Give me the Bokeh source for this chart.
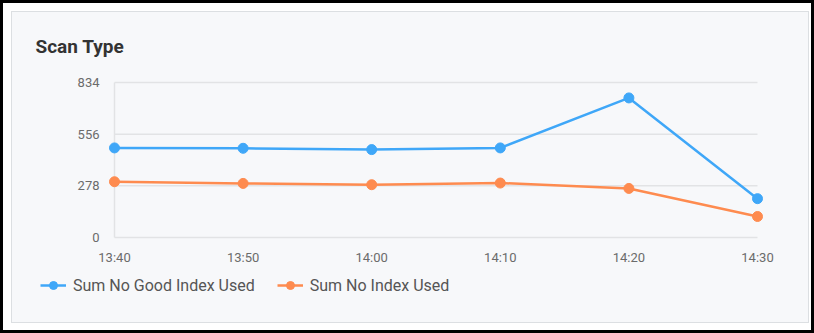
from bokeh.plotting import figure
from bokeh.models import (Range1d, FixedTicker, Legend, LegendItem, Label,
                          InlineStyleSheet)
from bokeh.embed import file_html
from bokeh.resources import INLINE

# ---- data ----
time_labels = ["13:40", "13:50", "14:00", "14:10", "14:20", "14:30"]
no_good_index = [482, 480, 473, 482, 751, 209]
no_index = [300, 291, 284, 293, 264, 113]
y_ticks = [0, 278, 556, 834]
series_names = ["Sum No Good Index Used", "Sum No Index Used"]
title_text = "Scan Type"

BLUE = "#3fa7f8"
ORANGE = "#fe8b4f"
FONT = "Roboto"

x = list(range(len(time_labels)))

# ---- layout (canvas pixels) ----
W, H = 814, 333
FRAME_L, FRAME_R, FRAME_T, FRAME_B = 13, 807, 13, 321   # frame = inner panel
PLOT_L, PLOT_R, PLOT_T, PLOT_B = 114, 757, 82, 237      # visible data area

ux = (PLOT_R - PLOT_L) / (x[-1] - x[0])
uy = (PLOT_B - PLOT_T) / (y_ticks[-1] - y_ticks[0])
x_range = Range1d(x[0] - (PLOT_L - FRAME_L) / ux, x[-1] + (FRAME_R - PLOT_R) / ux)
y_range = Range1d(y_ticks[0] - (FRAME_B - PLOT_B) / uy, y_ticks[-1] + (PLOT_T - FRAME_T) / uy)

css = """
:host {
  background:
    linear-gradient(#f7f8fa, #f7f8fa) 12px 12px / 796px 310px no-repeat,
    linear-gradient(#dcdfe2, #dcdfe2) 11px 11px / 798px 312px no-repeat,
    #ffffff;
  box-shadow: inset 0 0 0 3px #000000;
}
"""

p = figure(width=W, height=H, output_backend="svg", toolbar_location=None,
           x_range=x_range, y_range=y_range,
           min_border_left=FRAME_L, min_border_right=W - FRAME_R,
           min_border_top=FRAME_T, min_border_bottom=H - FRAME_B,
           stylesheets=[InlineStyleSheet(css=css)])
p.border_fill_alpha = 0
p.background_fill_alpha = 0
p.outline_line_color = None
p.xgrid.visible = False
p.ygrid.visible = False

# gridlines and left rule from tick values
GRID = "#e2e3e5"
p.segment(x0=[x[0]] * len(y_ticks), x1=[x[-1]] * len(y_ticks), y0=y_ticks, y1=y_ticks,
          line_color=GRID, line_width=1.5, level="underlay")
p.segment(x0=[x[0]], x1=[x[0]], y0=[y_ticks[0]], y1=[y_ticks[-1]],
          line_color=GRID, line_width=1.5, level="underlay")

# axes, pinned to the data area
p.yaxis.ticker = FixedTicker(ticks=y_ticks)
p.xaxis.ticker = FixedTicker(ticks=x)
p.xaxis.major_label_overrides = {i: t for i, t in zip(x, time_labels)}
p.xaxis.fixed_location = y_ticks[0]
p.yaxis.fixed_location = x[0]
for ax in (p.xaxis[0], p.yaxis[0]):
    ax.axis_line_color = None
    ax.major_tick_line_color = None
    ax.minor_tick_line_color = None
    ax.major_tick_out = 0
    ax.major_tick_in = 0
    ax.major_label_text_font = FONT
    ax.major_label_text_font_size = "13px"
    ax.major_label_text_color = "#6b6b6b"
p.yaxis.major_label_standoff = 15
p.xaxis.major_label_standoff = 12

# series
l1 = p.line(x, no_good_index, line_color=BLUE, line_width=2.5)
c1 = p.scatter(x, no_good_index, size=10, fill_color=BLUE, line_color=BLUE)
l2 = p.line(x, no_index, line_color=ORANGE, line_width=2.5)
c2 = p.scatter(x, no_index, size=10, fill_color=ORANGE, line_color=ORANGE)

legend = Legend(items=[LegendItem(label=series_names[0], renderers=[l1, c1]),
                       LegendItem(label=series_names[1], renderers=[l2, c2])],
                orientation="horizontal", location=(40 - FRAME_L, FRAME_B - 295),
                glyph_width=26, glyph_height=20, label_height=20,
                label_standoff=7, spacing=22, padding=0, margin=0,
                label_text_font=FONT, label_text_font_size="16px",
                label_text_color="#555555",
                border_line_alpha=0, background_fill_alpha=0)
p.add_layout(legend, "center")

p.add_layout(Label(x=35, y=46, x_units="canvas", y_units="canvas", text=title_text,
                   text_font=FONT, text_font_style="bold", text_font_size="19px",
                   text_color="#333333", text_baseline="middle"))

open("out.html", "w").write(file_html(p, INLINE))
